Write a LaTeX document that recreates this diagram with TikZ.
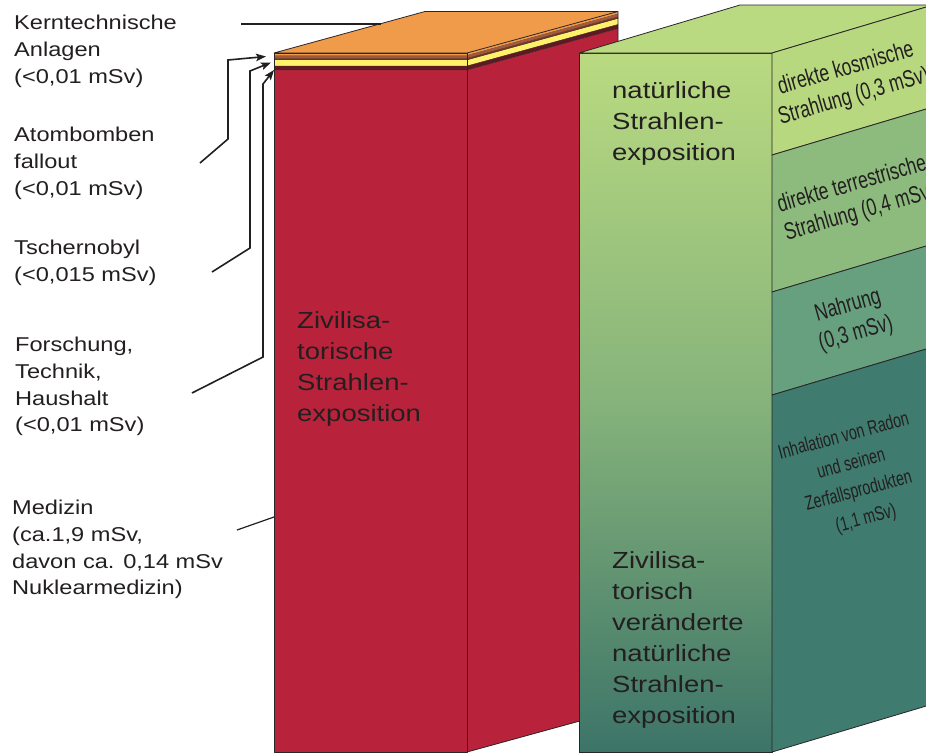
\documentclass[tikz,border=0pt]{standalone}
\usepackage{fontspec}
\setmainfont{Liberation Sans}[FakeStretch=1.18]
\newfontfamily\narrowfont{Liberation Sans}[FakeStretch=0.73]
\newfontfamily\narrowerfont{Liberation Sans}[FakeStretch=0.71]
\usetikzlibrary{arrows.meta}
\definecolor{txt}{HTML}{231F20}
\definecolor{edge}{HTML}{2A2526}
\definecolor{redbox}{HTML}{B8233B}
\definecolor{orangetop}{HTML}{F09B49}
\definecolor{brownlayer}{HTML}{A4583A}
\definecolor{darkbrown}{HTML}{6E3424}
\definecolor{yellowlayer}{HTML}{FFF26A}
\definecolor{darkredlayer}{HTML}{5E1A22}
\definecolor{gtop}{HTML}{B9DA80}
\definecolor{gmid}{HTML}{86B37B}
\definecolor{gbot}{HTML}{3C7468}
\definecolor{bandA}{HTML}{B7D87F}
\definecolor{bandB}{HTML}{8DBB7D}
\definecolor{bandC}{HTML}{66A07F}
\definecolor{bandD}{HTML}{3F7B6E}
\begin{document}
\begin{tikzpicture}[x=1pt,y=-1pt,
  label/.style={anchor=north west,inner sep=0pt,align=left,text=txt,font=\fontsize{20}{26.7}\selectfont},
  bigtext/.style={anchor=north west,inner sep=0pt,align=left,text=txt,font=\fontsize{23.3}{31}\selectfont},
  sidetext/.style={inner sep=0pt,align=center,text=txt,rotate=16,font=\narrowfont\fontsize{24}{29}\selectfont},
  sidesmall/.style={inner sep=0pt,align=center,text=txt,rotate=15,font=\narrowerfont\fontsize{20}{28.5}\selectfont},
  outline/.style={draw=edge,line width=0.8pt,line join=round},
  pointer/.style={draw=txt,line width=1.6pt,-{Stealth[length=10pt,width=7.5pt,inset=2pt]}},
  plainline/.style={draw=txt,line width=1.2pt}]
\useasboundingbox (0,0) rectangle (926,753);

% ---------- red box (zivilisatorische Strahlenexposition) ----------
\fill[redbox] (274,70) rectangle (467,752);
\fill[redbox] (467,70) -- (618,28.5) -- (618,710.5) -- (467,752) -- cycle;
\foreach \ya/\yb/\c in {53/55.5/orangetop, 55.5/58.5/brownlayer, 58.5/60.3/darkbrown, 60.3/66/yellowlayer, 66/70/darkredlayer}{
  \fill[\c] (274,\ya) rectangle (467,\yb);
  \fill[\c] (467,\ya) -- (618,\ya-41.5) -- (618,\yb-41.5) -- (467,\yb) -- cycle;
  \draw[edge,line width=0.4pt] (274,\yb) -- (467,\yb) -- (618,\yb-41.5);
}
\filldraw[fill=orangetop,outline] (274,53) -- (467,53) -- (618,11.5) -- (425,11.5) -- cycle;
\draw[outline] (274,53) rectangle (467,752);
\draw[outline] (467,752) -- (618,710.5) -- (618,11.5);
\node[bigtext] (redtext) at (297,311) {Zivilisa-\\torische\\Strahlen-\\exposition};

% ---------- green box (natuerliche Strahlenexposition) ----------
\shade[top color=gtop,bottom color=gbot,middle color=gmid] (579,53) rectangle (772,752);
\draw[outline] (579,53) rectangle (772,752);
\filldraw[fill=gtop,outline] (579,53) -- (772,53) -- (933,5) -- (740,5) -- cycle;
\filldraw[fill=bandA,outline] (772,53) -- (933,5) -- (933,107) -- (772,155) -- cycle;
\filldraw[fill=bandB,outline] (772,155) -- (933,107) -- (933,244) -- (772,292) -- cycle;
\filldraw[fill=bandC,outline] (772,292) -- (933,244) -- (933,347) -- (772,395) -- cycle;
\filldraw[fill=bandD,outline] (772,395) -- (933,347) -- (933,704) -- (772,752) -- cycle;

\node[bigtext] (nattext) at (612,81) {natürliche\\Strahlen-\\exposition};
\node[bigtext] (veraendert) at (612,551) {Zivilisa-\\torisch\\veränderte\\natürliche\\Strahlen-\\exposition};

\node[sidetext] (kosm) at (850,83) {direkte kosmische\\Strahlung (0,3 mSv)};
\node[sidetext] (terr) at (856,199) {direkte terrestrische\\Strahlung (0,4 mSv)};
\node[sidetext] (nahr) at (852,320) {Nahrung\\(0,3 mSv)};
\node[sidesmall] (radon) at (855,478) {Inhalation von Radon\\und seinen\\Zerfallsprodukten\\(1,1 mSv)};

% ---------- left labels ----------
\node[label] (kern) at (14,15) {Kerntechnische\\Anlagen\\(<0,01 mSv)};
\node[label] (atom) at (14,127) {Atombomben\\fallout\\(<0,01 mSv)};
\node[label] (tscher) at (14,240) {Tschernobyl\\(<0,015 mSv)};
\node[label] (forsch) at (15,337) {Forschung,\\Technik,\\Haushalt\\(<0,01 mSv)};
\node[label] (medizin) at (12,500) {Medizin\\(ca.1,9 mSv,\\davon ca. 0,14 mSv\\Nuklearmedizin)};

% ---------- connectors ----------
\coordinate (kernA) at (241,24);
\coordinate (kernB) at (381,24);
\draw[plainline] (kernA) -- (kernB);

\coordinate (atomA) at (200,163);
\coordinate (atomB) at (228,139);
\coordinate (atomC) at (228,60);
\coordinate (atomT) at (266,56.5);
\draw[pointer] (atomA) -- (atomB) -- (atomC) -- (atomT);

\coordinate (tschA) at (212,272);
\coordinate (tschB) at (250,248);
\coordinate (tschC) at (250,71);
\coordinate (tschT) at (271,62.5);
\draw[pointer] (tschA) -- (tschB) -- (tschC) -- (tschT);

\coordinate (forA) at (192,393);
\coordinate (forB) at (263,357);
\coordinate (forC) at (263,84);
\coordinate (forT) at (274,70);
\draw[pointer] (forA) -- (forB) -- (forC) -- (forT);

\coordinate (medA) at (237,530);
\coordinate (medB) at (274,517);
\draw[plainline] (medA) -- (medB);
\end{tikzpicture}
\end{document}
